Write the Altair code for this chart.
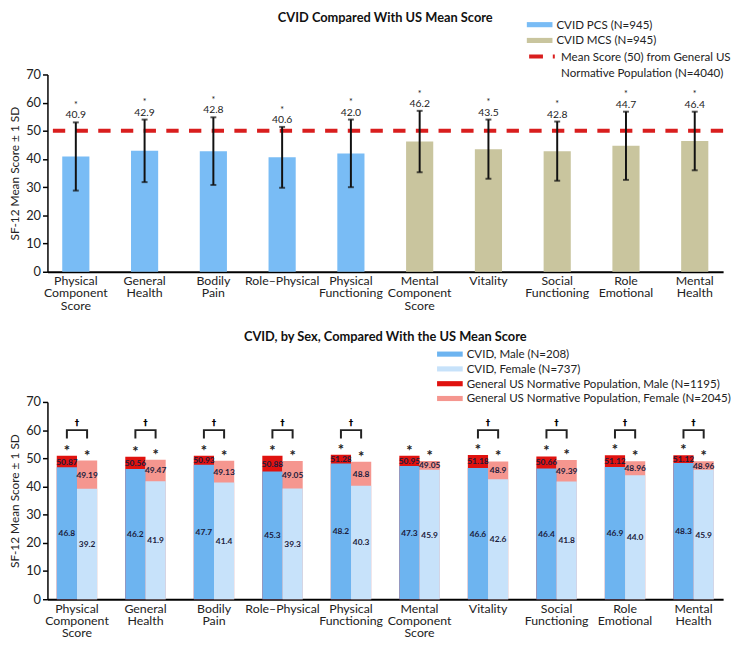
import altair as alt
import pandas as pd

# ---------------- data ----------------
categories = ["Physical|Component|Score", "General|Health", "Bodily|Pain", "Role–Physical",
              "Physical|Functioning", "Mental|Component|Score", "Vitality",
              "Social|Functioning", "Role|Emotional", "Mental|Health"]

# top panel
top_groups = ["CVID PCS (N=945)"] * 5 + ["CVID MCS (N=945)"] * 5
top_means = [40.9, 42.9, 42.8, 40.6, 42.0, 46.2, 43.5, 42.8, 44.7, 46.4]
top_sd = [12.1, 11.1, 12.0, 10.8, 12.0, 10.9, 10.5, 10.5, 12.1, 10.4]
top_sig = ["*"] * 10
ref_value = 50
ref_lines = ["Mean Score (50) from General US", "Normative Population (N=4040)"]

# bottom panel
sexes = ["Male", "Female"]
cvid_male = [46.8, 46.2, 47.7, 45.3, 48.2, 47.3, 46.6, 46.4, 46.9, 48.3]
cvid_female = [39.2, 41.9, 41.4, 39.3, 40.3, 45.9, 42.6, 41.8, 44.0, 45.9]
gen_male = [50.87, 50.56, 50.93, 50.88, 51.28, 50.95, 51.18, 50.66, 51.12, 51.12]
gen_female = [49.19, 49.47, 49.13, 49.05, 48.8, 49.05, 48.9, 49.39, 48.96, 48.96]
sex_diff = [True, True, True, True, True, False, True, True, True, True]
series = ["CVID, Male (N=208)", "CVID, Female (N=737)",
          "General US Normative Population, Male (N=1195)",
          "General US Normative Population, Female (N=2045)"]
y_ticks = [0, 10, 20, 30, 40, 50, 60, 70]

# ---------------- styles ----------------
FONT = "Lato"
C_PCS, C_MCS, C_REF = "#79BCF5", "#C9C59E", "#D91E1E"
C_SERIES = ["#6DB4F0", "#C7E2FA", "#E0120F", "#F5968F"]
TXT = "#1c1c3c"
W, H = 685, 200
LEG_FS = 11.7
BAR_PATH = "M-1,-0.4H3V0.4H-1Z"
LINE_PATH = "M-1,0H6.43"

top_df = pd.DataFrame({"category": categories, "group": top_groups,
                       "mean": top_means, "sd": top_sd, "sig": top_sig})
ref_df = pd.DataFrame({"ref": [ref_lines[0]], "value": [ref_value]})

rows = []
for i, c in enumerate(categories):
    rows.append({"category": c, "sex": "Male", "cvid": cvid_male[i], "gen": gen_male[i],
                 "cvid_series": series[0], "gen_series": series[2],
                 "gen_label": str(gen_male[i])})
    rows.append({"category": c, "sex": "Female", "cvid": cvid_female[i], "gen": gen_female[i],
                 "cvid_series": series[1], "gen_series": series[3],
                 "gen_label": str(gen_female[i])})
bot_df = pd.DataFrame(rows)

BRACKET_Y, BRACKET_TICK = 60, 57
br_rows = []
for i, c in enumerate(categories):
    if sex_diff[i]:
        for k, (s, yv) in enumerate([("Male", BRACKET_TICK), ("Male", BRACKET_Y),
                                     ("Female", BRACKET_Y), ("Female", BRACKET_TICK)]):
            br_rows.append({"category": c, "sex": s, "y": yv, "k": k})
br_df = pd.DataFrame(br_rows)
dag_df = pd.DataFrame({"category": [c for c, d in zip(categories, sex_diff) if d],
                       "y": BRACKET_Y, "mark": "†"})

# ---------------- axes ----------------
y_axis = alt.Axis(values=y_ticks, tickCount=len(y_ticks), title="SF-12 Mean Score ± 1 SD",
                  grid=False, domainColor="black", domainWidth=1.5, tickColor="black",
                  tickWidth=1.5, tickSize=5, labelFontSize=13, labelPadding=2,
                  labelColor="#222", titleFontSize=12, titleFontWeight="normal",
                  titleColor="#222", titlePadding=4, labelOverlap=False)

x_axis = alt.Axis(title=None, labelAngle=0, labelExpr="split(datum.label, '|')",
                  ticks=False, domainColor="black", domainWidth=2, labelFontSize=12.5,
                  labelLineHeight=12.5, labelPadding=3, labelColor="#222",
                  labelBaseline="top", labelFont=FONT)

ysc = alt.Scale(domain=[0, 70], nice=False)

def Y(field):
    return alt.Y(field, scale=ysc, axis=y_axis)

# ---------------- top chart ----------------
xt = alt.X("category:N", sort=categories, axis=x_axis,
           scale=alt.Scale(paddingInner=0.605, paddingOuter=0.215))
base_t = alt.Chart(top_df).transform_calculate(
    lo="datum.mean - datum.sd", hi="datum.mean + datum.sd")

bars_t = base_t.mark_bar().encode(
    x=xt, y=Y("mean:Q"),
    color=alt.Color("group:N", scale=alt.Scale(domain=top_groups[::5], range=[C_PCS, C_MCS]),
                    legend=alt.Legend(title=None, orient="none", legendX=486, legendY=-57,
                                      symbolType=BAR_PATH, symbolSize=169, labelOffset=17,
                                      rowPadding=2, padding=0, symbolStrokeWidth=0,
                                      labelFontSize=LEG_FS, labelFont=FONT, labelColor="#222",
                                      labelLimit=300)))
ref_rule = alt.Chart(ref_df).mark_rule(strokeWidth=4, strokeDash=[12.5, 10.5]).encode(
    y=Y("value:Q"),
    color=alt.Color("ref:N", scale=alt.Scale(domain=ref_lines, range=[C_REF, "rgba(0,0,0,0)"]),
                    legend=alt.Legend(title=None, orient="none", legendX=486, legendY=-24,
                                      symbolType=LINE_PATH, symbolSize=49, labelOffset=23,
                                      symbolStrokeWidth=4, symbolDash=[14, 10],
                                      rowPadding=0, padding=0, labelFontSize=LEG_FS,
                                      labelFont=FONT, labelColor="#222", labelLimit=300)))
err_t = base_t.mark_rule(strokeWidth=2, color="#111").encode(
    x=xt, y=Y("lo:Q"), y2="hi:Q")
cap_lo = base_t.mark_tick(size=6, thickness=2, color="#111").encode(x=xt, y=Y("lo:Q"))
cap_hi = base_t.mark_tick(size=6, thickness=2, color="#111").encode(x=xt, y=Y("hi:Q"))
val_t = base_t.mark_text(fontSize=10.5, dy=-7, color="#222", font=FONT, baseline="middle").encode(
    x=xt, y=Y("hi:Q"), text=alt.Text("mean:Q", format=".1f"))
sig_t = base_t.mark_text(fontSize=9, dy=-17.5, color="#222", font=FONT, baseline="middle").encode(
    x=xt, y=Y("hi:Q"), text="sig:N")

top = alt.layer(bars_t, ref_rule, err_t, cap_lo, cap_hi, val_t, sig_t).resolve_scale(
    color="independent").properties(
    width=W, height=H,
    title=alt.Title("CVID Compared With US Mean Score", offset=-7))

# ---------------- bottom chart ----------------
xb = alt.X("category:N", sort=categories, axis=x_axis,
           scale=alt.Scale(paddingInner=0.41, paddingOuter=0.136))
xo = alt.XOffset("sex:N", sort=sexes, scale=alt.Scale(paddingInner=0, paddingOuter=0))
cscale = alt.Scale(domain=series, range=C_SERIES)
leg_b = alt.Legend(title=None, orient="none", legendX=395, legendY=-55, symbolType=BAR_PATH,
                   symbolSize=169, labelOffset=17, rowPadding=1, padding=0,
                   symbolStrokeWidth=0, labelFontSize=LEG_FS, labelFont=FONT,
                   labelColor="#222", labelLimit=400)

base_b = alt.Chart(bot_df).transform_calculate(
    gen_mid="(datum.cvid + datum.gen) / 2", cvid_mid="datum.cvid / 2")
gen_bars = base_b.mark_bar().encode(
    x=xb, xOffset=xo, y=Y("gen:Q"),
    color=alt.Color("gen_series:N", scale=cscale, legend=leg_b))
cvid_bars = base_b.mark_bar().encode(
    x=xb, xOffset=xo, y=Y("cvid:Q"),
    color=alt.Color("cvid_series:N", scale=cscale, legend=leg_b))
gen_txt = base_b.mark_text(fontSize=8.5, fontWeight="bold", color=TXT, font=FONT).encode(
    x=xb, xOffset=xo, y=Y("gen_mid:Q"), text="gen_label:N")
cvid_txt = base_b.mark_text(fontSize=8.5, fontWeight="bold", color=TXT, font=FONT).encode(
    x=xb, xOffset=xo, y=Y("cvid_mid:Q"), text=alt.Text("cvid:Q", format=".1f"))
star_b = base_b.mark_text(fontSize=15, fontWeight="bold", color="#222", font=FONT,
                          dy=-5, baseline="middle").encode(
    x=xb, xOffset=xo, y=Y("gen:Q"), text=alt.value("*"))
brackets = alt.Chart(br_df).mark_line(strokeWidth=2, color="#222").encode(
    x=xb, xOffset=xo, y=Y("y:Q"), detail="category:N", order="k:Q")
daggers = alt.Chart(dag_df).mark_text(fontSize=9, fontWeight="bold", color="#000",
                                      font="DejaVu Sans", dy=-7, baseline="middle").encode(
    x=xb, y=Y("y:Q"), text="mark:N")

bottom = alt.layer(gen_bars, cvid_bars, gen_txt, cvid_txt, star_b, brackets, daggers).properties(
    width=W, height=H,
    title=alt.Title("CVID, by Sex, Compared With the US Mean Score", offset=4))

chart = alt.vconcat(top, bottom, spacing=19).resolve_scale(color="independent").properties(
    padding={"left": 0, "top": 0, "right": 0, "bottom": 0}
).configure(font=FONT).configure_view(stroke=None).configure_title(
    font=FONT, fontSize=13, fontWeight="bold", anchor="middle", color="#111")

chart.save("out.html", embed_options={"renderer": "svg", "actions": False})
